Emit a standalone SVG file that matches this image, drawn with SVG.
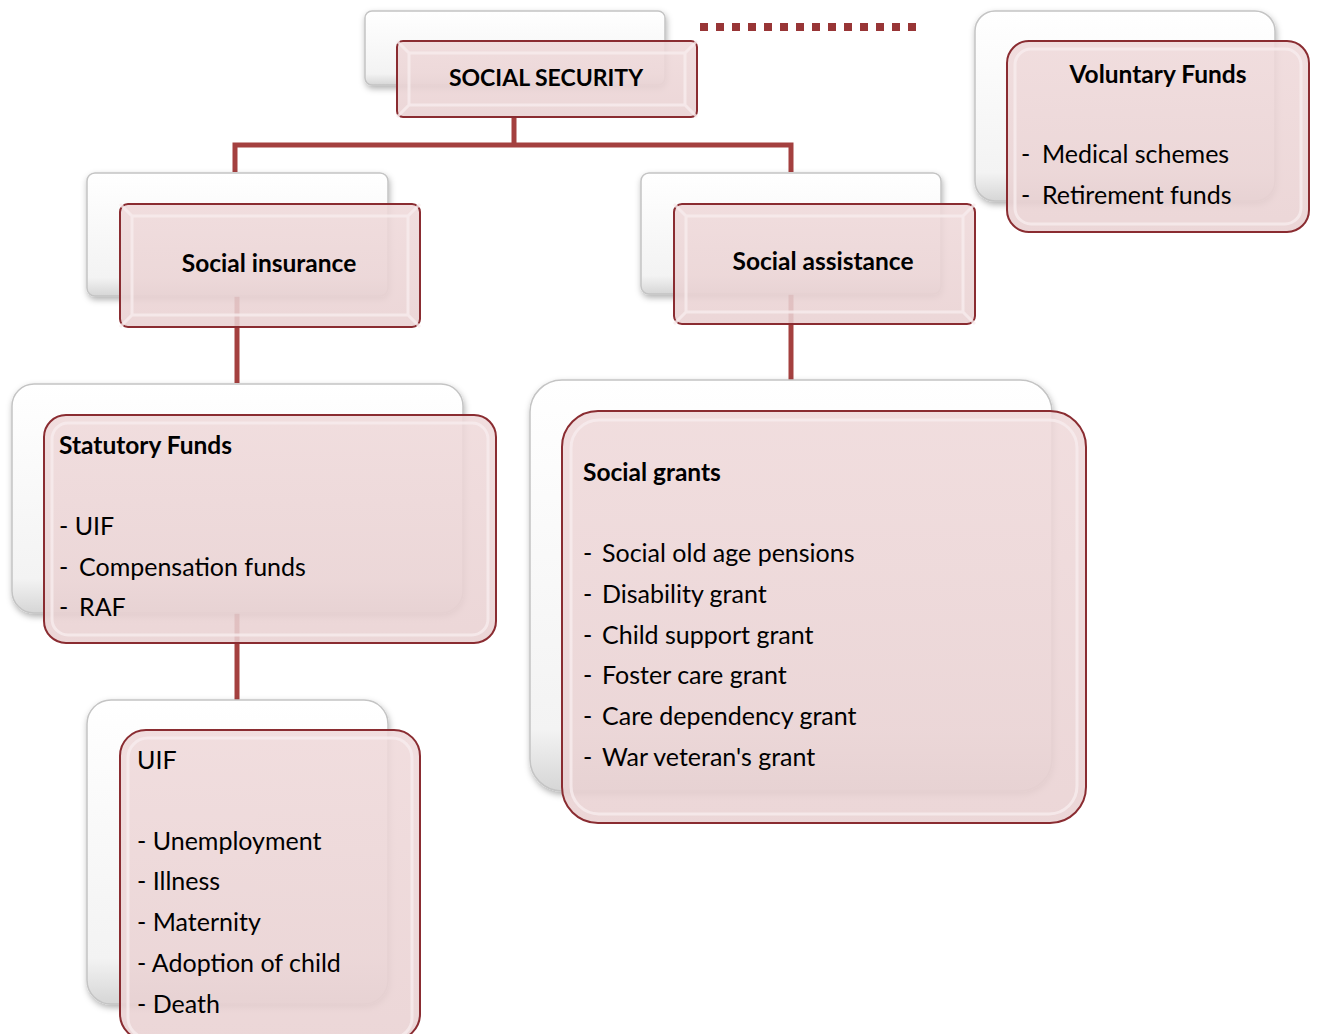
<svg xmlns="http://www.w3.org/2000/svg" width="1317" height="1034" viewBox="0 0 1317 1034">
<style>
.t{font-family:Lato,"Open Sans","Liberation Sans",sans-serif;font-size:25px;fill:#000}
.b{font-weight:bold;font-size:24.5px}
.back{fill:url(#gw);stroke:#c4c4c4;stroke-width:1.5;filter:url(#sh)}
.front{fill:url(#gp);stroke:#8a2c31;stroke-width:2;fill-opacity:0.88}
.bevel{fill:none;stroke:#f7eced;stroke-width:3;opacity:0.8}
.con{stroke:#a4403f;stroke-width:5;fill:none}
</style>
<defs>
<linearGradient id="gw" x1="0" y1="0" x2="0" y2="1">
<stop offset="0" stop-color="#ffffff"/><stop offset="0.85" stop-color="#f3f3f3"/><stop offset="1" stop-color="#d6d6d6"/>
</linearGradient>
<linearGradient id="gp" x1="0" y1="0" x2="0" y2="1">
<stop offset="0" stop-color="#efd9da"/><stop offset="1" stop-color="#e9d1d2"/>
</linearGradient>
<filter id="sh" x="-10%" y="-10%" width="120%" height="130%">
<feDropShadow dx="1" dy="3" stdDeviation="3" flood-color="#000" flood-opacity="0.3"/>
</filter>
</defs>
<rect width="1317" height="1034" fill="#ffffff"/>

<g id="connectors">
<path class="con" d="M514 117 V145 M235 172 V145 H791 V172"/>
<path class="con" d="M237 296 V383"/>
<path class="con" d="M791 294 V380"/>
<path class="con" d="M237 613 V700"/>
<line x1="700" y1="27" x2="916" y2="27" stroke="#983536" stroke-width="8" stroke-dasharray="8 8"/>
</g>

<g id="social-security">
<rect class="back" x="365" y="11" width="300" height="74" rx="7"/>
<rect class="front" x="397" y="41" width="300" height="76" rx="6"/>
<path class="bevel" d="M409 53 H685 V105 H409 Z M397 41 L409 53 M697 41 L685 53 M397 117 L409 105 M697 117 L685 105"/>
<text class="t b" x="546" y="86" text-anchor="middle" style="font-size:23px">SOCIAL SECURITY</text>
</g>

<g id="voluntary-funds">
<rect class="back" x="975" y="11" width="300" height="190" rx="20"/>
<rect class="front" x="1007" y="41" width="302" height="191" rx="22"/>
<rect class="bevel" x="1015" y="49" width="286" height="175" rx="16"/>
<text class="t b" x="1158" y="83" text-anchor="middle">Voluntary Funds</text>
<text class="t" x="1021" y="163">-</text><text class="t" x="1042" y="163">Medical schemes</text>
<text class="t" x="1021" y="204">-</text><text class="t" x="1042" y="204">Retirement funds</text>
</g>

<g id="social-insurance">
<rect class="back" x="87" y="173" width="301" height="123" rx="8"/>
<rect class="front" x="120" y="204" width="300" height="123" rx="8"/>
<path class="bevel" d="M132 216 H408 V315 H132 Z M120 204 L132 216 M420 204 L408 216 M120 327 L132 315 M420 327 L408 315"/>
<text class="t b" x="269" y="272" text-anchor="middle">Social insurance</text>
</g>

<g id="social-assistance">
<rect class="back" x="641" y="173" width="300" height="121" rx="8"/>
<rect class="front" x="674" y="204" width="301" height="120" rx="8"/>
<path class="bevel" d="M686 216 H963 V312 H686 Z M674 204 L686 216 M975 204 L963 216 M674 324 L686 312 M975 324 L963 312"/>
<text class="t b" x="823" y="270" text-anchor="middle">Social assistance</text>
</g>

<g id="statutory-funds">
<rect class="back" x="12" y="384" width="451" height="229" rx="22"/>
<rect class="front" x="44" y="415" width="452" height="228" rx="22"/>
<rect class="bevel" x="52" y="423" width="436" height="212" rx="16"/>
<text class="t b" x="59" y="454">Statutory Funds</text>
<text class="t" x="59" y="535">- UIF</text>
<text class="t" x="59" y="576">-</text><text class="t" x="79" y="576">Compensation funds</text>
<text class="t" x="59" y="616">-</text><text class="t" x="79" y="616">RAF</text>
</g>

<g id="social-grants">
<rect class="back" x="530" y="380" width="522" height="411" rx="32"/>
<rect class="front" x="562" y="411" width="524" height="412" rx="36"/>
<rect class="bevel" x="571" y="420" width="506" height="394" rx="28"/>
<text class="t b" x="583" y="481">Social grants</text>
<text class="t" x="583" y="562">-</text><text class="t" x="602" y="562">Social old age pensions</text>
<text class="t" x="583" y="603">-</text><text class="t" x="602" y="603">Disability grant</text>
<text class="t" x="583" y="644">-</text><text class="t" x="602" y="644">Child support grant</text>
<text class="t" x="583" y="684">-</text><text class="t" x="602" y="684">Foster care grant</text>
<text class="t" x="583" y="725">-</text><text class="t" x="602" y="725">Care dependency grant</text>
<text class="t" x="583" y="766">-</text><text class="t" x="602" y="766">War veteran's grant</text>
</g>

<g id="uif">
<rect class="back" x="87" y="700" width="301" height="304" rx="24"/>
<rect class="front" x="120" y="730" width="300" height="310" rx="26"/>
<rect class="bevel" x="128" y="738" width="284" height="300" rx="20"/>
<text class="t" x="137" y="769">UIF</text>
<text class="t" x="137" y="850">- Unemployment</text>
<text class="t" x="137" y="890">- Illness</text>
<text class="t" x="137" y="931">- Maternity</text>
<text class="t" x="137" y="972">- Adoption of child</text>
<text class="t" x="137" y="1013">- Death</text>
</g>
</svg>
